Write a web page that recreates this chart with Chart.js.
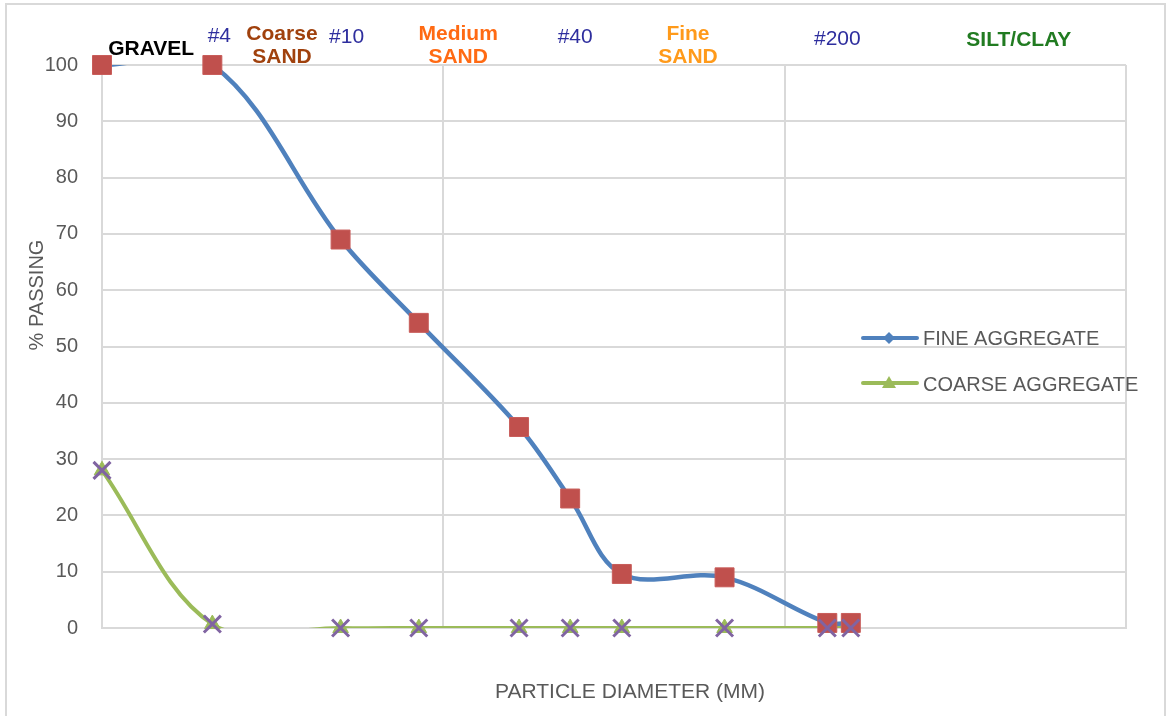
<!DOCTYPE html>
<html>
<head>
<meta charset="utf-8">
<title>Grain size distribution</title>
<script src="https://cdn.jsdelivr.net/npm/chart.js@4.4.1/dist/chart.umd.min.js"></script>
<style>
  html, body { margin: 0; padding: 0; background: #ffffff; }
  canvas { display: block; }
</style>
</head>
<body>
<canvas id="grading" width="1168" height="716"></canvas>
<script>
// Sieve openings (mm) of each test point
const sieveSizesMm = [10, 4.75, 2.0, 1.18, 0.6, 0.425, 0.3, 0.15, 0.075, 0.064];
// Percent passing at each opening
const finePassing   = [100, 100, 69, 54.2, 35.7, 23, 9.6, 9.0, 0.9, 0.9];
const coarsePassing = [28, 0.7, 0, 0, 0, 0, 0, 0, 0, 0];

const seriesNames = ['FINE AGGREGATE', 'COARSE AGGREGATE'];
const yTickValues = [0, 10, 20, 30, 40, 50, 60, 70, 80, 90, 100];
const decadeLines = [10, 1, 0.1, 0.01];

// Sieve designations shown along the top
const sieveNames = ['#4', '#10', '#40', '#200'];
const sieveMarksMm = [4.75, 2.0, 0.425, 0.075];

// Soil classes shown along the top
const soilZones = [['GRAVEL'], ['Coarse', 'SAND'], ['Medium', 'SAND'], ['Fine', 'SAND'], ['SILT/CLAY']];

const xAxisTitle = 'PARTICLE DIAMETER (MM)';
const yAxisTitle = '% PASSING';

const FAMILY = '"Liberation Sans", Arial, Helvetica, sans-serif';
const font = (size, bold) => (bold ? 'bold ' : '') + size + 'px ' + FAMILY;
const GRID = '#D9D9D9';
const TEXT = '#595959';
const BLUE = '#4F81BD';
const RED = '#C0504D';
const GREEN = '#9BBB59';
const PURPLE = '#8064A2';

const toPoints = (ys) => sieveSizesMm.map((d, i) => ({ x: d, y: ys[i] }));

// Light frame around the whole figure
const framePlugin = {
  id: 'frame',
  beforeDraw(chart) {
    const c = chart.ctx;
    c.save();
    c.fillStyle = '#ffffff';
    c.fillRect(0, 0, chart.width, chart.height);
    c.strokeStyle = GRID;
    c.lineWidth = 2;
    c.strokeRect(6, 4, 1159, 730);
    c.restore();
  }
};

// Sieve numbers and soil class names above the plot
const headerLayout = {
  sieve: { nudge: [7, 6, 5, 10], baseline: [41.5, 42.5, 43, 44.5], color: '#2E2E9E' },
  zones: {
    centersMm: [7.18, 2.97, 0.905, 0.192, 0.0206],
    baselines: [[54.5], [39.5, 62.5], [39.5, 63], [39.5, 63], [45.5]],
    colors: ['#000000', '#A0410D', '#FF6A13', '#FF9A1A', '#217B21']
  }
};
const headerPlugin = {
  id: 'header',
  afterDraw(chart) {
    const c = chart.ctx;
    const xs = chart.scales.x;
    c.save();
    c.textAlign = 'center';
    c.textBaseline = 'alphabetic';
    c.font = font(21, false);
    c.fillStyle = headerLayout.sieve.color;
    sieveNames.forEach((name, i) => {
      c.fillText(name, xs.getPixelForValue(sieveMarksMm[i]) + headerLayout.sieve.nudge[i], headerLayout.sieve.baseline[i]);
    });
    c.font = font(21, true);
    soilZones.forEach((lines, i) => {
      c.fillStyle = headerLayout.zones.colors[i];
      const px = xs.getPixelForValue(headerLayout.zones.centersMm[i]);
      lines.forEach((t, j) => c.fillText(t, px, headerLayout.zones.baselines[i][j]));
    });
    c.restore();
  }
};

// Axis titles
const titlePlugin = {
  id: 'axisTitles',
  afterDraw(chart) {
    const c = chart.ctx;
    c.save();
    c.fillStyle = TEXT;
    c.textAlign = 'center';
    c.textBaseline = 'alphabetic';
    c.font = font(21, false);
    c.fillText(xAxisTitle, 630, 698);
    c.font = font(20, false);
    c.translate(43, 295);
    c.rotate(-Math.PI / 2);
    c.fillText(yAxisTitle, 0, 0);
    c.restore();
  }
};

// Legend: line sample with marker, then the series name
const legendPlugin = {
  id: 'seriesKey',
  afterDraw(chart) {
    const c = chart.ctx;
    const rows = [
      { name: seriesNames[0], color: BLUE, y: 338, marker: 'diamond', base: 345 },
      { name: seriesNames[1], color: GREEN, y: 383, marker: 'triangle', base: 391 }
    ];
    c.save();
    rows.forEach(r => {
      c.strokeStyle = r.color;
      c.fillStyle = r.color;
      c.lineWidth = 4;
      c.lineCap = 'round';
      c.beginPath();
      c.moveTo(863, r.y);
      c.lineTo(917, r.y);
      c.stroke();
      const mx = 889;
      c.beginPath();
      if (r.marker === 'diamond') {
        c.moveTo(mx, r.y - 6); c.lineTo(mx + 6, r.y); c.lineTo(mx, r.y + 6); c.lineTo(mx - 6, r.y);
      } else {
        c.moveTo(mx, r.y - 7); c.lineTo(mx + 7, r.y + 5); c.lineTo(mx - 7, r.y + 5);
      }
      c.closePath();
      c.fill();
      c.fillStyle = TEXT;
      c.font = font(20, false);
      c.textAlign = 'left';
      c.textBaseline = 'alphabetic';
      c.fillText(r.name, 923, r.base);
    });
    c.restore();
  }
};

new Chart(document.getElementById('grading'), {
  type: 'line',
  data: {
    datasets: [
      {
        label: seriesNames[1],
        data: toPoints(coarsePassing),
        borderColor: GREEN,
        borderWidth: 4,
        borderCapStyle: 'round',
        borderJoinStyle: 'round',
        tension: 0.35,
        capBezierPoints: false,
        pointRadius: 0,
        fill: false,
        order: 6
      },
      {
        label: seriesNames[1] + ' markers',
        data: toPoints(coarsePassing),
        showLine: false,
        pointStyle: 'triangle',
        pointRadius: 9,
        backgroundColor: GREEN,
        borderColor: GREEN,
        borderWidth: 1,
        clip: false,
        order: 5
      },
      {
        label: seriesNames[0],
        data: toPoints(finePassing),
        borderColor: BLUE,
        borderWidth: 4.5,
        borderCapStyle: 'round',
        borderJoinStyle: 'round',
        tension: 0.35,
        capBezierPoints: false,
        pointRadius: 0,
        fill: false,
        order: 4
      },
      {
        label: seriesNames[0] + ' markers',
        data: toPoints(finePassing),
        showLine: false,
        pointStyle: 'rect',
        pointRadius: 13.4,
        backgroundColor: RED,
        borderColor: '#C85C59',
        borderWidth: 1,
        clip: false,
        order: 3
      },
      {
        label: seriesNames[1] + ' points',
        data: toPoints(coarsePassing),
        showLine: false,
        pointStyle: 'crossRot',
        pointRadius: 12,
        borderColor: PURPLE,
        borderWidth: 3,
        clip: false,
        order: 2
      }
    ]
  },
  options: {
    responsive: false,
    animation: false,
    events: [],
    layout: { padding: { left: 0, right: 42, top: 65, bottom: 0 } },
    plugins: {
      legend: { display: false },
      tooltip: { enabled: false }
    },
    scales: {
      x: {
        type: 'logarithmic',
        min: 0.01,
        max: 10,
        reverse: true,
        afterBuildTicks(s) { s.ticks = decadeLines.map(v => ({ value: v })); },
        afterFit(s) { s.height = 88; },
        ticks: { display: false },
        grid: { color: GRID, lineWidth: 2, drawTicks: false },
        border: { color: GRID, width: 2 }
      },
      y: {
        min: 0,
        max: 100,
        afterBuildTicks(s) { s.ticks = yTickValues.map(v => ({ value: v })); },
        afterFit(s) { s.width = 102; },
        ticks: { color: TEXT, font: { family: FAMILY, size: 20 }, padding: 24 },
        grid: { color: GRID, lineWidth: 2, drawTicks: false },
        border: { color: GRID, width: 2 }
      }
    }
  },
  plugins: [framePlugin, headerPlugin, titlePlugin, legendPlugin]
});
</script>
</body>
</html>
